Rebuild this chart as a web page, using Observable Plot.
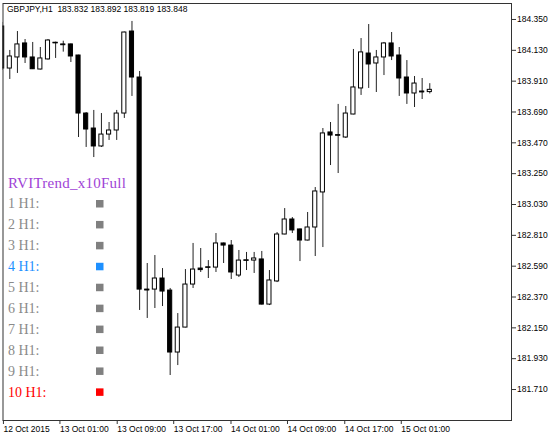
<!DOCTYPE html>
<html><head><meta charset="utf-8">
<script src="https://cdn.jsdelivr.net/npm/d3@7"></script>
<script src="https://cdn.jsdelivr.net/npm/@observablehq/plot@0.6"></script>
<style>
html,body{margin:0;padding:0;background:#fff;}
#chart{width:560px;height:439px;}
</style></head><body><div id="chart"></div>
<script>
// ---- data ----
const symbol = "GBPJPY,H1";
const lastQuote = [183.832, 183.892, 183.819, 183.848];

const openP = [184.300,184.000,184.079,184.179,184.079,183.993,184.065,184.181,184.172,184.172,184.093,183.679,183.572,183.444,183.529,183.558,183.679,184.264,183.936,182.423,182.423,182.502,182.416,181.974,182.152,182.459,182.573,182.580,182.580,182.752,182.737,182.523,182.630,182.630,182.638,182.316,182.481,182.816,182.923,182.852,182.773,182.866,183.116,183.544,183.522,183.508,183.672,183.858,184.107,184.036,184.079,184.179,184.093,183.936,183.822,183.836,183.832];
const highP = [184.329,184.129,184.264,184.207,184.186,184.150,184.207,184.188,184.195,184.175,184.095,183.686,183.701,183.679,183.615,183.701,184.260,184.336,183.979,182.609,182.666,182.573,182.431,182.252,182.566,182.752,182.716,182.630,182.823,182.755,182.773,182.702,182.688,182.688,182.695,182.559,182.830,183.001,182.937,182.855,182.973,183.151,183.572,183.615,183.744,183.729,184.136,184.214,184.314,184.129,184.186,184.257,184.150,184.057,183.943,183.929,183.892];
const lowP = [183.986,183.922,183.965,184.036,183.993,183.990,184.060,184.072,184.117,184.043,183.508,183.437,183.365,183.437,183.487,183.487,183.644,183.801,182.274,182.217,182.288,182.302,181.810,181.881,182.150,182.431,182.545,182.502,182.545,182.609,182.495,182.509,182.559,182.538,182.313,182.309,182.473,182.814,182.823,182.623,182.770,182.659,182.723,183.308,183.251,183.501,183.670,183.808,183.858,183.829,183.950,184.057,183.801,183.744,183.722,183.779,183.819];
const closeP = [184.000,184.086,184.172,184.079,183.995,184.072,184.200,184.184,184.170,184.086,183.679,183.565,183.444,183.529,183.558,183.679,184.257,183.936,182.423,182.420,182.502,182.409,181.974,182.152,182.459,182.566,182.562,182.582,182.752,182.737,182.545,182.630,182.632,182.645,182.316,182.488,182.816,182.923,182.845,182.773,182.866,183.123,183.537,183.522,183.525,183.679,183.865,184.115,184.029,184.079,184.179,184.086,183.929,183.822,183.893,183.833,183.848];

const priceTicks = [184.350,184.130,183.910,183.690,183.470,183.250,183.030,182.810,182.590,182.370,182.150,181.930,181.710];
const timeTickBars = [0.1, 7.5, 15, 22.4, 29.9, 37.3, 44.8, 52.2];
const timeLabels = ["12 Oct 2015","13 Oct 01:00","13 Oct 09:00","13 Oct 17:00","14 Oct 01:00","14 Oct 09:00","14 Oct 17:00","15 Oct 01:00"];

const legendTitle = "RVITrend_x10Full";
const legendRows = ["1 H1:","2 H1:","3 H1:","4 H1:","5 H1:","6 H1:","7 H1:","8 H1:","9 H1:","10 H1:"];
const legendState = ["flat","flat","flat","up","flat","flat","flat","flat","flat","down"];

// ---- styles ----
const stateText = {flat: "#8a8a8a", up: "#1e90ff", down: "#ff0000"};
const stateBox = {flat: "#808080", up: "#1e90ff", down: "#ff0000"};

const bars = openP.map((o, i) => ({i, o, h: highP[i], l: lowP[i], c: closeP[i]}));
const dojis = bars.filter(d => Math.abs(d.c - d.o) < 0.008);
const labelOf = new Map(timeTickBars.map((t, k) => [t, timeLabels[k]]));
const header = symbol + "\u00a0\u00a0" + lastQuote.map(v => v.toFixed(3)).join(" ");

const plot = Plot.plot({
  width: 560, height: 439,
  marginLeft: 2.5, marginRight: 49, marginTop: 3, marginBottom: 19,
  x: {domain: [0.11, 66.7], axis: null},
  y: {domain: [181.489, 184.464], axis: null},
  style: {fontFamily: "'Liberation Sans', Arial, sans-serif", fontSize: "8.5px", color: "black", background: "white"},
  marks: [
    Plot.ruleX(bars, {x: "i", y1: "l", y2: "h", stroke: "#222", strokeWidth: 1, clip: true}),
    Plot.rect(bars, {x1: d => d.i - 0.27, x2: d => d.i + 0.27, y1: "o", y2: "c",
      fill: d => d.c < d.o ? "black" : "white", stroke: "black", strokeWidth: 1, clip: true}),
    Plot.ruleY(dojis, {y: "c", x1: d => d.i - 0.33, x2: d => d.i + 0.33, stroke: "black", strokeWidth: 1, clip: true}),
    Plot.frame({stroke: "#333"}),
    Plot.axisY({ticks: priceTicks, anchor: "right", label: null, tickSize: 4, tickPadding: 1.5, tickFormat: d3.format(".3f"), fill: "black", stroke: "#333"}),
    Plot.axisX({ticks: timeTickBars, anchor: "bottom", label: null, tickSize: 4, tickPadding: 1.5, tickFormat: d => labelOf.get(d), textAnchor: "start", dx: 0.5, fill: "black", stroke: "#333"}),
    Plot.text([header], {frameAnchor: "top-left", dx: 4, dy: 2, text: d => d, fill: "black", fontSize: 8.5})
  ]
});

// legend of the indicator, drawn into the same SVG
const svg = d3.select(plot);
const g = svg.append("g").attr("font-family", "'Liberation Serif', 'DejaVu Serif', serif").attr("text-anchor", "start");
g.append("text").attr("x", 8).attr("y", 188).attr("font-size", 15)
  .attr("letter-spacing", 0.25).attr("fill", "#a043d6").text(legendTitle);
legendRows.forEach((r, k) => {
  const base = 208.3 + k * 20.93;
  const st = legendState[k];
  g.append("text").attr("x", 8).attr("y", base).attr("font-size", 14).attr("fill", stateText[st]).text(r);
  g.append("rect").attr("x", 96).attr("y", base - 8.3).attr("width", 7.5).attr("height", 7.5).attr("fill", stateBox[st]);
});

document.getElementById("chart").appendChild(plot);
</script></body></html>
